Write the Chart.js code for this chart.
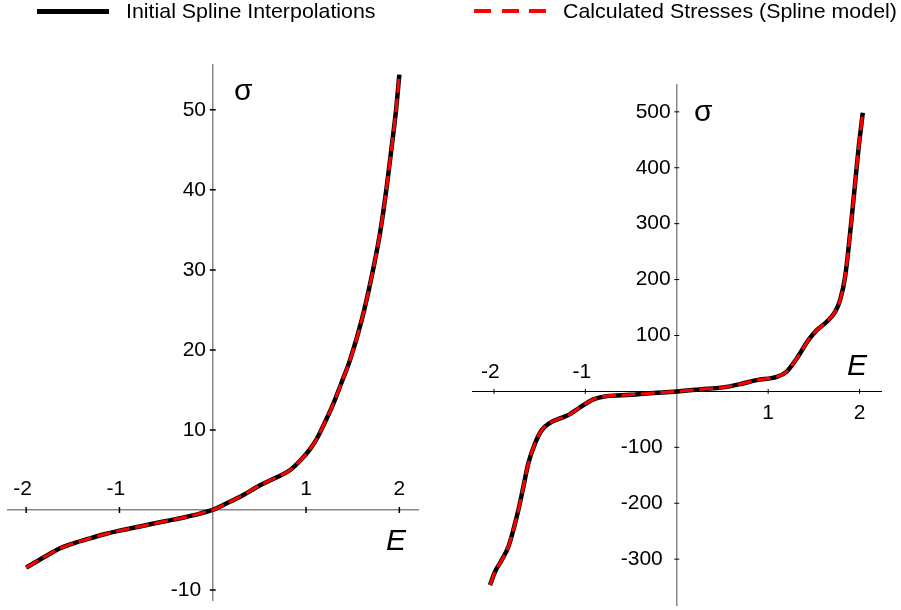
<!DOCTYPE html>
<html><head><meta charset="utf-8">
<script src="https://cdn.jsdelivr.net/npm/chart.js@4.4.1/dist/chart.umd.min.js"></script>
<style>
html,body{margin:0;padding:0;background:#fff;width:901px;height:610px;overflow:hidden;}
#wrap{position:relative;width:901px;height:610px;}
canvas{position:absolute;left:0;top:0;}
.leg{position:absolute;font-family:"Liberation Sans",Arial,Helvetica,sans-serif;font-size:21px;line-height:20px;white-space:nowrap;transform:scaleX(1.018);transform-origin:0 0;color:#000;}
.key{position:absolute;}
</style></head><body>
<div id="wrap">
<canvas id="c1" width="901" height="610"></canvas>
<canvas id="c2" width="901" height="610"></canvas>
<div class="key" style="left:37.4px;top:9px;width:71.8px;height:4.5px;background:#000"></div>
<div class="leg" id="leg1" style="left:126px;top:1px"></div>
<div class="key" style="left:474px;top:9.3px;width:72px;height:4px;background:repeating-linear-gradient(to right,#ff0000 0,#ff0000 17px,transparent 17px,transparent 27.5px)"></div>
<div class="leg" id="leg2" style="left:563px;top:1px"></div>
</div>
<script>
// ---------- data ----------
const seriesNames = ['Initial Spline Interpolations', 'Calculated Stresses (Spline model)'];
const axisTitleX = 'E';
const axisTitleY = 'σ';

const leftE = [-2, -1.8, -1.636, -1.5, -1.315, -1.15, -1, -0.85, -0.672, -0.5, -0.35, -0.2, -0.1, 0,
  0.15, 0.328, 0.507, 0.686, 0.83, 0.936, 1.043, 1.115, 1.2, 1.293, 1.38, 1.472, 1.597, 1.704, 1.793, 1.865, 1.918, 1.965, 2];
const leftSigma = [-7.2, -5.85, -4.79, -4.2, -3.54, -3.0, -2.58, -2.23, -1.79, -1.38, -1.04, -0.65, -0.32, 0,
  0.83, 1.875, 3.1, 4.08, 5.0, 6.15, 7.6, 8.9, 10.9, 13.3, 15.9, 18.75, 23.75, 29.2, 34.6, 40.4, 45.4, 50.0, 54.4];

const rightE = [-2.043, -1.988, -1.915, -1.842, -1.788, -1.733, -1.678, -1.624, -1.55, -1.477, -1.386, -1.277, -1.168, -1.058,
  -0.912, -0.766, -0.511, -0.256, 0, 0.255, 0.51, 0.693, 0.875, 1.094, 1.2, 1.313, 1.44, 1.532, 1.641, 1.732, 1.787, 1.842,
  1.877, 1.915, 1.951, 1.987, 2.035];
const rightSigma = [-346.4, -322.6, -301.7, -277.9, -248, -212.3, -170.6, -128.8, -93, -69.2, -56.1, -48.3, -40.6, -28.6,
  -14.3, -8.4, -6.1, -3.0, 0, 3.6, 7.2, 13, 20.2, 26.1, 35, 59, 91.7, 109.6, 124.5, 142.3, 163.3, 205,
  252.7, 312.2, 372, 431.5, 498.2];

const leftXTicksNeg = [-2, -1];
const leftXTicksPos = [1, 2];
const leftYTicksPos = [10, 20, 30, 40, 50];
const leftYTicksNeg = [-10];
const rightXTicksNeg = [-2, -1];
const rightXTicksPos = [1, 2];
const rightYTicksPos = [100, 200, 300, 400, 500];
const rightYTicksNeg = [-300, -200, -100];

// ---------- helpers ----------
document.getElementById('leg1').textContent = seriesNames[0];
document.getElementById('leg2').textContent = seriesNames[1];

const FONT = '"Liberation Sans", Arial, Helvetica, sans-serif';
const zeroPad = s => { s.paddingLeft = 0; s.paddingRight = 0; s.paddingTop = 0; s.paddingBottom = 0; };

function makeDatasets(xs, ys) {
  const pts = () => xs.map((x, i) => ({x: x, y: ys[i]}));
  return [
    {label: seriesNames[0], data: pts(), borderColor: '#000000', borderWidth: 4.5, pointRadius: 0,
     cubicInterpolationMode: 'monotone', borderJoinStyle: 'round', order: 2},
    {label: seriesNames[1], data: pts(), borderColor: '#ff0000', borderWidth: 3, borderDash: [14, 5.5], pointRadius: 0,
     cubicInterpolationMode: 'monotone', order: 1}
  ];
}

// opt: border colour/width, pad (tick padding), lo (label offset), show (labels on/off)
function axis(ax, min, max, pos, tickVals, opt) {
  return {
    type: 'linear', axis: ax, min: min, max: max, position: pos,
    grid: {display: false, drawTicks: false, drawOnChartArea: false},
    border: opt.border ? {display: true, color: opt.border, width: opt.bw} : {display: false},
    ticks: {
      display: opt.show !== false,
      color: '#000', font: {family: FONT, size: 21}, padding: opt.pad || 0, labelOffset: opt.lo || 0,
      autoSkip: false, maxRotation: 0, minRotation: 0,
      callback: v => String(v)
    },
    afterBuildTicks: s => { s.ticks = tickVals.map(v => ({value: v})); },
    afterFit: zeroPad
  };
}

const decor = {
  id: 'decor',
  beforeDatasetsDraw(chart, args, opts) {
    const ctx = chart.ctx;
    ctx.save();
    for (const t of opts.marks) {
      const s = chart.scales[t.scale];
      const base = chart.scales[t.at].getPixelForValue(0);
      ctx.strokeStyle = '#000';
      ctx.lineWidth = t.width;
      ctx.beginPath();
      for (const v of t.values) {
        const p = s.getPixelForValue(v);
        if (s.isHorizontal()) { ctx.moveTo(p, base - t.len); ctx.lineTo(p, base + t.len); }
        else { ctx.moveTo(base - t.len, p); ctx.lineTo(base + t.len, p); }
      }
      ctx.stroke();
    }
    ctx.fillStyle = '#000';
    ctx.textAlign = 'left';
    ctx.textBaseline = 'alphabetic';
    for (const l of opts.titles) {
      ctx.font = l.font;
      ctx.fillText(l.text, l.x, l.y);
    }
    ctx.restore();
  }
};

const W = 901;

// ---------- left chart ----------
new Chart(document.getElementById('c1'), {
  type: 'line',
  data: {datasets: makeDatasets(leftE, leftSigma)},
  plugins: [decor],
  options: {
    responsive: false, animation: false, events: [],
    layout: {padding: {left: 7.5, right: W - 418, top: 65, bottom: 10}},
    plugins: {
      legend: {display: false}, tooltip: {enabled: false},
      decor: {
        marks: [
          {scale: 'x', at: 'y', values: leftXTicksNeg.concat(leftXTicksPos), len: 3, width: 1.5},
          {scale: 'y', at: 'x', values: leftYTicksNeg.concat(leftYTicksPos), len: 3, width: 1.5}
        ],
        titles: [
          {text: axisTitleY, x: 234, y: 100, font: '30px ' + FONT},
          {text: axisTitleX, x: 386, y: 550, font: 'italic 30px ' + FONT}
        ]
      }
    },
    scales: {
      x: axis('x', -2.2, 2.2, {y: 0}, leftXTicksNeg, {border: '#888888', bw: 1.5, pad: -33.6, lo: -3.5}),
      x2: axis('x', -2.2, 2.2, {y: 0}, leftXTicksPos, {pad: -33.6}),
      y: axis('y', -11.25, 55.6, {x: 0}, leftYTicksPos, {border: '#888888', bw: 1.5, show: false}),
      yl: axis('y', -11.25, 55.6, {x: -0.072}, leftYTicksPos, {}),
      yn: axis('y', -11.25, 55.6, {x: -0.125}, leftYTicksNeg, {})
    }
  }
});

// ---------- right chart ----------
new Chart(document.getElementById('c2'), {
  type: 'line',
  data: {datasets: makeDatasets(rightE, rightSigma)},
  plugins: [decor],
  options: {
    responsive: false, animation: false, events: [],
    layout: {padding: {left: 472, right: W - 881.5, top: 85, bottom: 5}},
    plugins: {
      legend: {display: false}, tooltip: {enabled: false},
      decor: {
        marks: [
          {scale: 'x', at: 'y', values: rightXTicksNeg.concat(rightXTicksPos), len: 2.5, width: 1},
          {scale: 'y', at: 'x', values: rightYTicksNeg.concat(rightYTicksPos), len: 2.5, width: 1}
        ],
        titles: [
          {text: axisTitleY, x: 694, y: 121, font: '30px ' + FONT},
          {text: axisTitleX, x: 847, y: 375, font: 'italic 30px ' + FONT}
        ]
      }
    },
    scales: {
      x: axis('x', -2.24, 2.24, {y: 0}, rightXTicksNeg, {border: '#000000', bw: 1, pad: -32.2, lo: -3.5}),
      x2: axis('x', -2.24, 2.24, {y: 0}, rightXTicksPos, {pad: 8.8}),
      y: axis('y', -382, 548, {x: 0}, rightYTicksPos, {border: '#888888', bw: 1.5, show: false}),
      yl: axis('y', -382, 548, {x: -0.066}, rightYTicksPos, {}),
      yn: axis('y', -382, 548, {x: -0.153}, rightYTicksNeg, {})
    }
  }
});
</script>
</body></html>
